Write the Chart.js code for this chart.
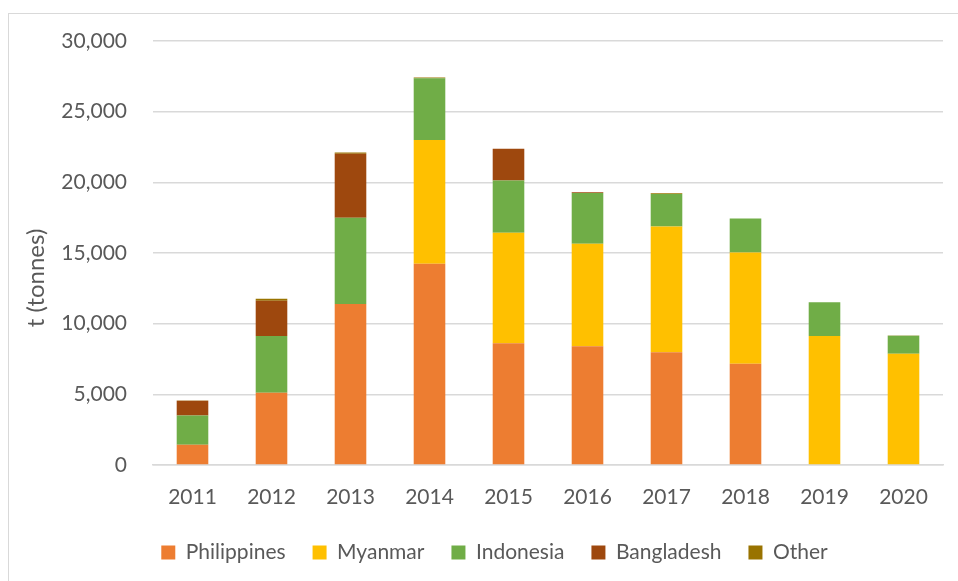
<!DOCTYPE html>
<html lang="en">
<head>
    <meta charset="UTF-8">
    <title>Imports by origin</title>
    <script src="https://cdn.jsdelivr.net/npm/chart.js"></script>
    <style>
        body { margin: 0; background: #fff; }
        .frame { position: absolute; left: 8px; top: 13px; width: 1000px; height: 620px; border: 1px solid #d9d9d9; }
        .wrap { position: absolute; left: 0; top: 0; width: 958px; height: 581px; }
    </style>
</head>
<body>
    <div class="frame"></div>
    <div class="wrap"><canvas id="chart" width="958" height="581"></canvas></div>

    <script>
        // years and tonnes per origin
        const years = ["2011", "2012", "2013", "2014", "2015", "2016", "2017", "2018", "2019", "2020"];
        const philippines = [1430, 5110, 11400, 14240, 8620, 8410, 7980, 7160, 0, 0];
        const myanmar = [0, 0, 0, 8750, 7810, 7240, 8900, 7880, 9120, 7870];
        const indonesia = [2070, 4010, 6090, 4380, 3700, 3590, 2290, 2400, 2400, 1270];
        const bangladesh = [1040, 2500, 4530, 0, 2250, 60, 0, 0, 0, 0];
        const other = [30, 140, 90, 50, 0, 0, 60, 0, 0, 20];

        const txt = "#595959";
        const font = { family: "Lato", size: 21 };

        // y title like Excel: centred on plot + category labels
        const yTitle = {
            id: "yTitle",
            afterDraw(chart) {
                const ctx = chart.ctx;
                const x = chart.scales.x;
                ctx.save();
                ctx.translate(36, (chart.chartArea.top + x.bottom) / 2);
                ctx.rotate(-Math.PI / 2);
                ctx.fillStyle = txt;
                ctx.font = "24px Lato";
                ctx.textAlign = "center";
                ctx.textBaseline = "middle";
                ctx.fillText("t (tonnes)", 0, 0);
                ctx.restore();
            }
        };

        new Chart(document.getElementById("chart"), {
            type: "bar",
            data: {
                labels: years,
                datasets: [
                    { label: "Philippines", data: philippines, backgroundColor: "#ED7D31" },
                    { label: "Myanmar", data: myanmar, backgroundColor: "#FFC000" },
                    { label: "Indonesia", data: indonesia, backgroundColor: "#70AD47" },
                    { label: "Bangladesh", data: bangladesh, backgroundColor: "#9E480E" },
                    { label: "Other", data: other, backgroundColor: "#997300" }
                ]
            },
            options: {
                responsive: false,
                animation: false,
                categoryPercentage: 1,
                barPercentage: 0.4,
                layout: { padding: { top: 41, right: 15, bottom: 8, left: 46 } },
                plugins: {
                    tooltip: { enabled: false },
                    legend: {
                        position: "bottom",
                        labels: { color: txt, font: font, boxWidth: 14, boxHeight: 14, padding: 27 }
                    }
                },
                scales: {
                    x: {
                        stacked: true,
                        grid: { display: false },
                        border: { color: "#d9d9d9", width: 1.5 },
                        ticks: { color: txt, font: font, padding: 12 },
                        afterFit: s => { s.height = 50; }
                    },
                    y: {
                        stacked: true,
                        min: 0,
                        max: 30000,
                        grid: { color: "#d9d9d9", lineWidth: 1.5, drawTicks: false },
                        border: { display: false },
                        ticks: {
                            stepSize: 5000,
                            color: txt,
                            font: font,
                            padding: 26,
                            callback: v => v.toLocaleString("en-US")
                        },
                        afterFit: s => { s.width = 107; }
                    }
                }
            },
            plugins: [yTitle]
        });
    </script>
</body>
</html>
